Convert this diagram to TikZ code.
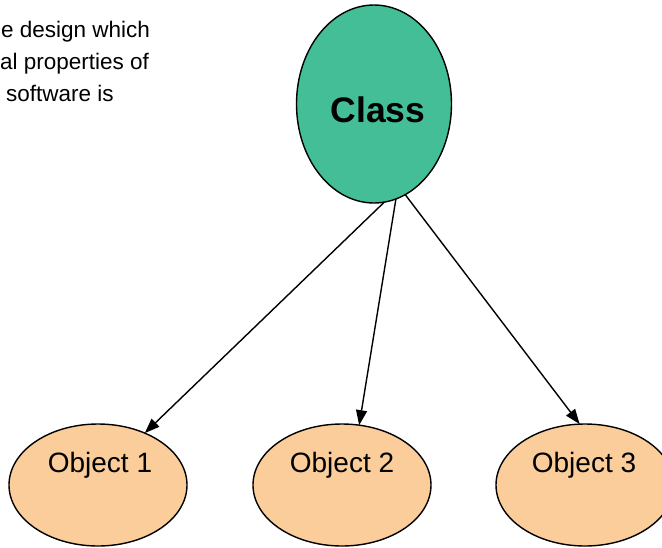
\documentclass[tikz,border=0pt]{standalone}
\usepackage{fontspec}
\setmainfont{Liberation Sans}
\usetikzlibrary{arrows.meta,shapes.geometric}
\definecolor{classgreen}{RGB}{67,190,150}
\definecolor{objpeach}{RGB}{250,205,155}
\tikzset{
  classnode/.style={ellipse, draw=black, line width=1.4pt, fill=classgreen,
    minimum width=155pt, minimum height=198pt, inner sep=0pt, outer sep=0pt},
  objnode/.style={ellipse, draw=black, line width=1.4pt, fill=objpeach,
    minimum width=178pt, minimum height=122pt, inner sep=0pt, outer sep=0pt},
  objtext/.style={font=\fontsize{28}{32}\selectfont, inner sep=0pt},
  classtext/.style={font=\fontsize{35.5}{42}\selectfont\bfseries, inner sep=0pt},
  sidetext/.style={font=\fontsize{22.5}{27}\selectfont, inner sep=0pt, anchor=base west},
  link/.style={line width=1.4pt, -{Triangle[length=15pt,width=11pt]}}
}
\begin{document}
\begin{tikzpicture}[x=1pt,y=-1pt]
\clip (0,0) rectangle (662,547);
\fill[white] (0,0) rectangle (662,547);
% side text (cut off at the left edge)
\node[sidetext] (t1) at (1,37) {e design which};
\node[sidetext] (t2) at (0,69) {al properties of};
\node[sidetext] (t3) at (6,101) {software is};
% class
\node[classnode] (cls) at (374,104) {};
\node[classtext] (clst) at (378,110) {Class};
% objects
\node[objnode] (o1) at (98,485) {};
\node[objnode] (o2) at (342,485) {};
\node[objnode] (o3) at (585,485) {};
\node[objtext] (o1t) at (100,465) {Object 1};
\node[objtext] (o2t) at (342,465) {Object 2};
\node[objtext] (o3t) at (584,465) {Object 3};
% links
\draw[link] (cls.276) -- (o1.48);
\draw[link] (cls.283) -- (o2.74);
\draw[link] (cls.289) -- (o3.95);
\end{tikzpicture}
\end{document}
